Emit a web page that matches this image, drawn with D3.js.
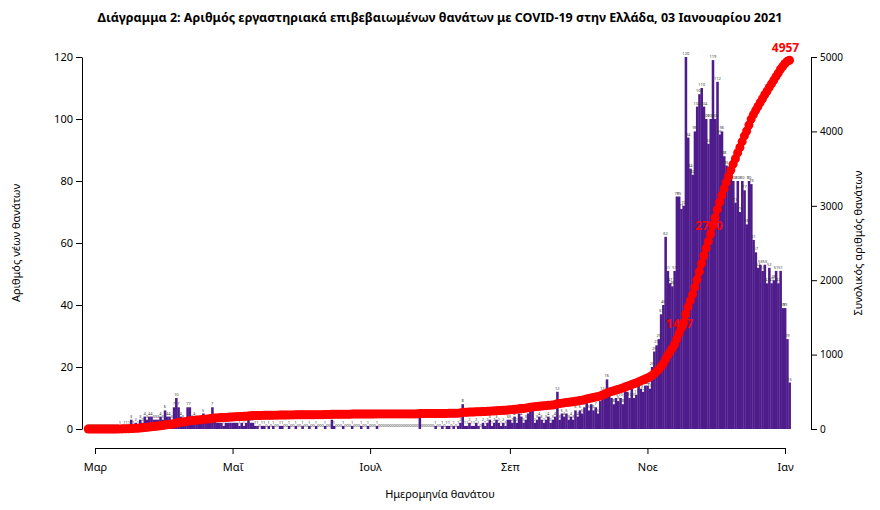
<!DOCTYPE html>
<html><head><meta charset="utf-8">
<script src="https://cdn.jsdelivr.net/npm/d3@7"></script>
<style>body{margin:0;background:#fff;font-family:"Noto Sans",sans-serif}</style>
</head><body><svg id="c" width="880" height="510"></svg>
<script>
const startDate = "2020-02-27";
const lead = [0,0,0,0,0,0,0,0,0,0,0,0,0,0];
const mar = [1,0,1,1,1,3,1,2,1,3,2,4,3,4,4,3,3,3,4,3];
const apr = [6,4,4,3,7,10,7,4,3,2,7,7,3,4,2,2,3,5,2,2,3,7,3,2,2,2,1,2,2,2];
const may = [2,2,2,1,2,1,2,4,2,2,1,1,0,1,1,0,1,0,1,0,0,1,1,0,0,1,0,0,1,0,0];
const jun = [1,0,0,1,0,0,1,0,0,0,1,0,0,3,1,0,0,0,1,0,0,0,1,0,0,0,1,0,0,1];
const jul = [0,0,0,1,0,0,0,0,0,0,0,0,0,0,0,0,0,0,0,0,0,0,4,0,0,0,0,0,0,1,0];
const aug = [0,1,0,1,1,0,1,0,1,2,8,1,1,2,1,1,2,1,0,2,1,2,3,1,2,3,2,1,2,1,3];
const sep = [3,2,4,2,5,4,2,3,5,6,6,2,3,4,3,2,3,4,2,3,4,12,3,5,4,5,3,4,3,6];
const oct = [4,6,5,7,9,6,8,6,7,5,9,12,11,16,12,10,8,10,9,10,8,13,12,10,13,10,11,14,13,12,14];
const nov = [14,13,20,25,27,29,37,40,62,51,47,46,51,75,75,71,72,120,94,84,82,96,104,108,110,104,100,92,100,119];
const decJan = [100,112,95,96,88,85,82,82,80,73,80,70,80,77,66,80,79,61,57,52,53,51,53,47,52,47,48,51,47,51,39,39,29,15];
const tickDates = ["2020-03-01","2020-05-01","2020-07-01","2020-09-01","2020-11-01","2021-01-01"];
const tickLabels = ["Μαρ","Μαΐ","Ιουλ","Σεπ","Νοε","Ιαν"];
const leftTicks = [0,20,40,60,80,100,120];
const rightTicks = [0,1000,2000,3000,4000,5000];
const labelDays = ["2020-11-17","2020-11-30"];

const daily = [].concat(lead,mar,apr,may,jun,jul,aug,sep,oct,nov,decJan);
const p = d3.timeParse("%Y-%m-%d");
const s0 = p(startDate);
let cum = 0;
const data = daily.map((v,i)=>{cum+=v; return {date:d3.timeDay.offset(s0,i), v, c:cum};});

const svg = d3.select("#c");
const x = d3.scaleTime().domain([p("2020-03-01"),p("2021-01-01")]).range([95,785]);
const y = d3.scaleLinear().domain([0,120]).range([429,57]);
const y2 = d3.scaleLinear().domain([0,5000]).range([429,57]);
const dw = x(p("2020-03-02"))-x(p("2020-03-01"));

svg.append("text").attr("x",440).attr("y",22).attr("text-anchor","middle").attr("font-size",12.5).attr("font-weight","bold")
 .text("Διάγραμμα 2: Αριθμός εργαστηριακά επιβεβαιωμένων θανάτων με COVID-19 στην Ελλάδα, 03 Ιανουαρίου 2021");

svg.append("g").selectAll("rect").data(data).join("rect")
 .attr("x",d=>x(d.date)-dw/2).attr("width",dw+0.3)
 .attr("y",d=>y(d.v)).attr("height",d=>y(0)-y(d.v)).attr("fill","#4f1c8c");
svg.append("g").selectAll("text").data(data).join("text")
 .attr("x",d=>x(d.date)).attr("y",d=>y(d.v)-2).attr("text-anchor","middle")
 .attr("font-size",4).attr("fill","#333").text(d=>d.v);

svg.append("path").datum(data).attr("fill","none").attr("stroke","red").attr("stroke-width",6)
 .attr("d",d3.line().x(d=>x(d.date)).y(d=>y2(d.c)));
svg.append("g").selectAll("circle").data(data).join("circle")
 .attr("cx",d=>x(d.date)).attr("cy",d=>y2(d.c)).attr("r",4.5).attr("fill","red");

const lab = data.filter(d=>labelDays.some(s=>+p(s)===+d.date));
lab.forEach(d=>svg.append("text").attr("x",x(d.date)-4).attr("y",y2(d.c)+5).attr("text-anchor","middle")
 .attr("font-size",12).attr("font-weight","bold").attr("fill","red").text(d.c));
const last = data[data.length-1];
svg.append("text").attr("x",x(last.date)-4).attr("y",y2(last.c)-8).attr("text-anchor","middle")
 .attr("font-size",12).attr("font-weight","bold").attr("fill","red").text(last.c);

const ax = svg.append("g").attr("transform","translate(0,448)")
 .call(d3.axisBottom(x).tickValues(tickDates.map(p)).tickFormat((d,i)=>tickLabels[i]).tickSize(6).tickSizeOuter(0));
const la = svg.append("g").attr("transform","translate(82,0)").call(d3.axisLeft(y).tickValues(leftTicks).tickSize(6).tickSizeOuter(0));
const ra = svg.append("g").attr("transform","translate(811,0)").call(d3.axisRight(y2).tickValues(rightTicks).tickFormat(d3.format("d")).tickSize(6).tickSizeOuter(0));
[ax,la,ra].forEach(g=>{g.selectAll("text").attr("font-size",11).attr("font-family","Noto Sans").attr("fill","#000");g.select(".domain").attr("stroke","#000");});
ra.selectAll("text").attr("font-size",10);
ax.selectAll("text").attr("dy","1.3em");

svg.append("text").attr("x",440).attr("y",498).attr("text-anchor","middle").attr("font-size",11).text("Ημερομηνία θανάτου");
svg.append("text").attr("transform","translate(20,243) rotate(-90)").attr("text-anchor","middle").attr("font-size",11).text("Αριθμός νέων θανάτων");
svg.append("text").attr("transform","translate(862,243) rotate(-90)").attr("text-anchor","middle").attr("font-size",11).text("Συνολικός αριθμός θανάτων");
</script></body></html>
